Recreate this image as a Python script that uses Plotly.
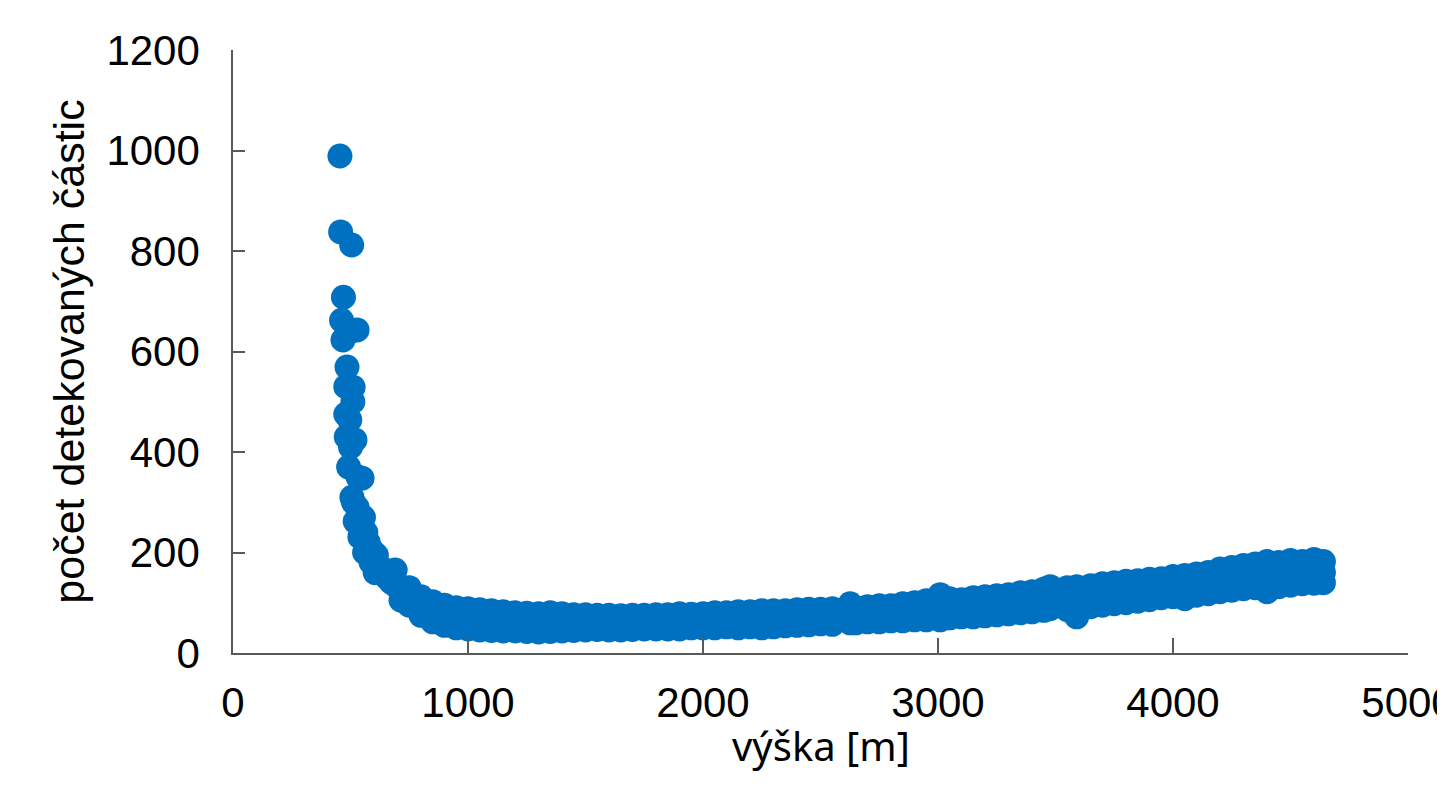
import plotly.graph_objects as go

# Steep part of the curve (low altitude)
vyska_strma = [455, 458, 505, 470, 462, 528, 500, 468, 485, 480, 511, 510, 480, 497, 482, 519, 500,
               492, 532, 549, 506, 512, 528, 520, 545, 555, 565, 540, 575, 590, 560, 610, 587, 630,
               605, 655, 668, 690, 675, 700, 720, 715]
pocet_strma = [989, 838, 812, 708, 662, 643, 640, 623, 569, 530, 529, 500, 475, 464, 430, 424, 410,
               370, 350, 348, 310, 300, 290, 262, 255, 270, 240, 231, 220, 205, 200, 195, 181, 170,
               160, 150, 155, 165, 140, 131, 120, 105]

# Plateau and slow rise (upper edge, middle and lower edge of the band of points)
vyska_pas = [750, 800, 850, 900, 950, 1000, 1050, 1100, 1150, 1200, 1250, 1300, 1350, 1400, 1450,
             1500, 1550, 1600, 1650, 1700, 1750, 1800, 1850, 1900, 1950, 2000, 2050, 2100, 2150,
             2200, 2250, 2300, 2350, 2400, 2450, 2500, 2550, 2626, 2650, 2700, 2750, 2800, 2850,
             2900, 2950, 3009, 3050, 3100, 3150, 3200, 3250, 3300, 3350, 3400, 3450, 3477, 3550,
             3590, 3650, 3700, 3750, 3800, 3850, 3900, 3950, 4000, 4050, 4100, 4150, 4200, 4250,
             4300, 4350, 4400, 4450, 4500, 4550, 4600, 4640]
pocet_horni = [130, 112, 102, 95, 90, 88, 86, 84, 82, 80, 79, 78, 80, 78, 76,
               76, 75, 75, 74, 75, 75, 76, 76, 78, 77, 78, 80, 80, 82,
               82, 84, 84, 84, 86, 87, 87, 88, 98, 90, 92, 94, 94, 98,
               100, 104, 116, 108, 106, 110, 112, 114, 116, 120, 122, 127, 132, 130,
               132, 134, 138, 140, 143, 144, 147, 148, 152, 154, 157, 160, 167, 170,
               174, 177, 182, 180, 184, 182, 186, 182]
pocet_stred = [112, 92, 80, 72, 68, 66, 64, 62, 60, 60, 58, 58, 60, 58, 58,
               58, 58, 58, 57, 58, 58, 60, 60, 61, 61, 62, 63, 64, 64,
               65, 65, 66, 67, 68, 70, 71, 71, 78, 74, 76, 77, 78, 80,
               82, 84, 90, 88, 88, 90, 92, 94, 96, 99, 101, 105, 110, 107,
               100, 112, 115, 118, 120, 122, 125, 128, 131, 130, 135, 138, 143, 146,
               150, 152, 150, 155, 158, 160, 162, 160]
pocet_dolni = [95, 75, 62, 55, 50, 48, 46, 45, 44, 44, 43, 42, 43, 44, 45,
               46, 47, 46, 46, 47, 48, 48, 48, 48, 50, 50, 50, 52, 50,
               52, 50, 52, 54, 55, 56, 58, 57, 60, 60, 62, 62, 64, 64,
               66, 66, 66, 70, 72, 72, 74, 76, 78, 80, 82, 85, 88, 86,
               72, 92, 95, 98, 100, 103, 106, 110, 112, 108, 115, 118, 122, 125,
               128, 130, 122, 132, 135, 138, 139, 140]

x_all = vyska_strma + vyska_pas + vyska_pas + vyska_pas
y_all = pocet_strma + pocet_horni + pocet_stred + pocet_dolni

BLUE = "#0070C0"
AXIS = "#595959"
TICKFONT = "Liberation Sans, Arial, sans-serif"

fig = go.Figure()
fig.add_trace(go.Scatter(
    x=x_all, y=y_all, mode="markers",
    marker=dict(size=25, color=BLUE, line=dict(width=0)),
    showlegend=False,
))

# the page body adds an 8px offset, margins compensate for it
fig.update_layout(
    width=1445, height=809,
    margin=dict(l=225, r=45, t=42, b=164),
    paper_bgcolor="white", plot_bgcolor="white",
    font=dict(family=TICKFONT, color="#000000"),
    annotations=[dict(
        text="výška [m]", xref="paper", yref="paper", x=0.5, y=0,
        xanchor="center", yanchor="middle", yshift=-92, showarrow=False,
        font=dict(size=40, family="Noto Sans, Open Sans, sans-serif", color="#000000"),
    )],
)
fig.update_xaxes(
    range=[0, 5000], tickvals=[0, 1000, 2000, 3000, 4000, 5000],
    showline=True, linecolor=AXIS, linewidth=1.5,
    ticks="inside", ticklen=15, tickwidth=1.5, tickcolor=AXIS,
    showgrid=False, zeroline=False, automargin=False,
    tickfont=dict(size=42, family=TICKFONT),
    ticklabelstandoff=12, ticklabeloverflow="allow",
)
fig.update_yaxes(
    range=[0, 1200], tickvals=[0, 200, 400, 600, 800, 1000, 1200],
    showline=True, linecolor=AXIS, linewidth=1.5,
    ticks="inside", ticklen=12, tickwidth=1.5, tickcolor=AXIS,
    showgrid=False, zeroline=False, automargin=False,
    tickfont=dict(size=42, family=TICKFONT),
    ticklabelstandoff=23, ticklabeloverflow="allow",
    title=dict(text="počet detekovaných částic",
               font=dict(size=43, family=TICKFONT),
               standoff=8),
)

fig.write_html("out.html")
